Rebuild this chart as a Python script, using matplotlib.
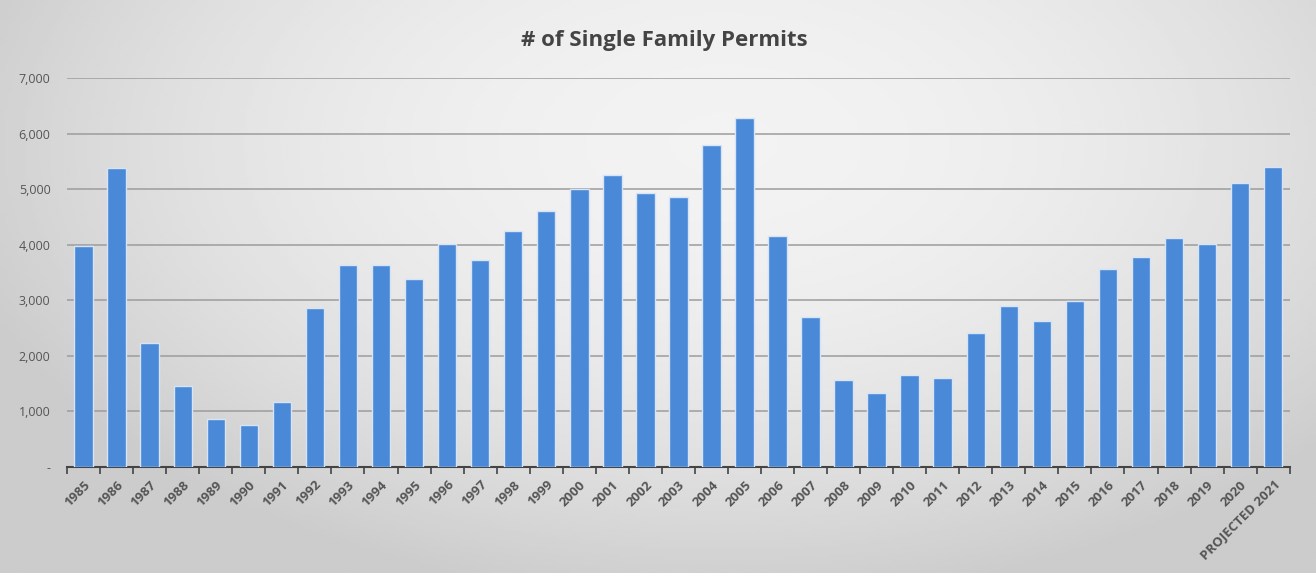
import numpy as np
import matplotlib
matplotlib.use("Agg")
import matplotlib.pyplot as plt
from matplotlib.ticker import FuncFormatter, FixedLocator

years = [str(y) for y in range(1985, 2021)] + ["PROJECTED 2021"]
permits = [3980, 5380, 2230, 1460, 860, 760, 1170, 2860, 3630, 3630,
           3380, 4010, 3720, 4250, 4610, 5000, 5250, 4930, 4860, 5790,
           6280, 4160, 2700, 1570, 1330, 1660, 1600, 2410, 2900, 2630,
           2990, 3560, 3780, 4120, 4010, 5110, 5400]
y_ticks = [0, 1000, 2000, 3000, 4000, 5000, 6000, 7000]

plt.rcParams['font.family'] = ['Open Sans', 'DejaVu Sans']

fig = plt.figure(figsize=(13.16, 5.73), dpi=100)
fig.patch.set_facecolor('#d6d6d6')

# scanned-paper look: light centre fading to grey edges
bg = fig.add_axes([0, 0, 1, 1], zorder=-10)
gx, gy = np.meshgrid(np.linspace(-1, 1, 400), np.linspace(1, -1, 200))
r2 = np.clip(((gx - 0.1) / 1.2) ** 2 + ((gy - 0.5) / 1.6) ** 2, 0, 1)
shade = 0.95 - 0.15 * r2
bg.imshow(shade, cmap='gray', vmin=0, vmax=1, aspect='auto',
          extent=[0, 1, 0, 1])
bg.axis('off')

ax = fig.add_axes([0.051, 0.185, 0.929, 0.679])
ax.patch.set_alpha(0)
x = np.arange(len(years))
ax.bar(x, permits, width=0.56, color='#4a88d8', edgecolor='#d6e4f5',
       linewidth=1.0, zorder=3)

ax.set_xlim(-0.5, len(years) - 0.5)
ax.set_ylim(0, 7000)
ax.yaxis.set_major_locator(FixedLocator(y_ticks))
ax.yaxis.set_major_formatter(FuncFormatter(lambda v, p: '-' if v == 0 else f'{int(v):,}'))
ax.grid(axis='y', color='#9c9c9c', linewidth=1.1, zorder=0)
ax.tick_params(axis='y', length=0, pad=12, labelsize=9, labelcolor='#555555')

ax.set_xticks(x)
ax.set_xticklabels(years, rotation=45, ha='right', rotation_mode='anchor',
                   fontsize=9.5, color='#555555', fontweight='bold')
ax.set_xticks(np.arange(-0.5, len(years)), minor=True)
ax.tick_params(axis='x', which='major', length=0, pad=8)
ax.tick_params(axis='x', which='minor', length=5, width=1.2, color='#444444', direction='out')

for side in ['top', 'right', 'left']:
    ax.spines[side].set_visible(False)
ax.spines['bottom'].set_color('#444444')
ax.spines['bottom'].set_linewidth(1.5)

fig.text(0.505, 0.93, '# of Single Family Permits', ha='center', va='center',
         fontsize=16, fontweight='bold', color='#444444')

fig.savefig('out.png', dpi=100)
